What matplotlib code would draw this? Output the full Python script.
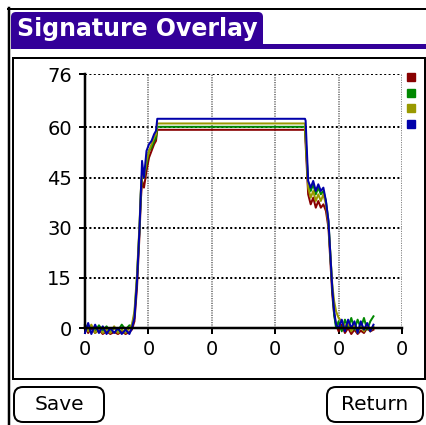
import matplotlib.pyplot as plt
from matplotlib.lines import Line2D
from matplotlib.patches import FancyBboxPatch, Rectangle

# дані кривих підписів
x = [0.00, 0.05, 0.10, 0.16, 0.22, 0.28, 0.34, 0.40, 0.46, 0.52, 0.58, 0.64, 0.70,
     0.74, 0.78, 0.82, 0.86, 0.88, 0.90, 0.93, 0.97, 1.01, 1.05, 1.09, 1.12, 1.14,
     3.47, 3.48, 3.52, 3.56, 3.60, 3.64, 3.68, 3.72, 3.76, 3.80, 3.84, 3.87, 3.90,
     3.93, 3.96, 4.00, 4.05, 4.10, 4.15, 4.20, 4.25, 4.30, 4.35, 4.40, 4.45, 4.50, 4.55]

red = [0.5, -1.5, 0.0, -1.5, -0.5, -1.8, -1.0, -1.8, -1.2, -1.8, -1.0, -1.8, -1.2,
       -0.5, 2, 12, 28, 38, 44, 42, 47, 51, 53, 55, 56, 59.3,
       59.3, 55, 40, 37, 39, 36, 38, 36, 37, 35, 30, 20, 10,
       4, 1, -1, 1, -1.5, 0, -1.8, -0.5, -1.8, -0.8, -1.5, 0, -1, -0.5]
green = [1.0, -0.5, 0.5, -1.0, 0.8, -0.8, 0.5, -1.2, 0.0, -0.8, 1.0, -0.5, 0.8,
         0.5, 4, 15, 30, 40, 46, 45, 49, 53, 54, 56, 57, 60.2,
         60.2, 57, 43, 41, 43, 40, 42, 40, 41, 38, 32, 22, 12,
         4, 0, 2, -1, 2.5, 0, 3, -0.5, 2.5, 0, 3, -0.5, 2, 3.5]
yellow = [0.5, -1.0, 1.0, -1.5, 0.0, -1.5, -0.5, -1.5, 0.5, -1.5, -0.5, -1.5, 0.0,
          1, 5, 16, 31, 41, 46, 45, 50, 53, 55, 57, 58, 61.2,
          61.2, 57, 42, 39, 41, 38, 40, 38, 40, 37, 31, 22, 13,
          8, 5, 3, 2, 0.5, 1.5, -1, 1, -1.5, 0.5, -1, 1, -1, 0.5]
blue = [-1.5, 1.5, -1.8, 1.0, -1.5, 0.5, -1.8, 0.0, -1.5, 0.0, -1.8, -0.5, -1.8,
        0, 3, 14, 30, 40, 50, 45, 53, 55, 56, 58, 59, 62.6,
        62.6, 62, 44, 42, 44, 41, 43, 41, 42, 38, 32, 22, 12,
        5, 1, 0, 2.5, -1, 2.5, 0, 2, -1.5, 2, -0.5, 1.5, -1, 1]

series = [red, green, yellow, blue]
colors = ['#880000', '#008800', '#999900', '#0000aa']
y_ticks = [0, 15, 30, 45, 60, 76]
x_ticks = [0, 1, 2, 3, 4, 5]
x_labels = ['0'] * 6

W, H = 427, 425
PX = 0.72  # 1 піксель у пунктах при dpi=100

fig = plt.figure(figsize=(W / 100, H / 100), dpi=100)

# фон: рамка вікна, заголовок, кнопки (у піксельних координатах)
bg = fig.add_axes([0, 0, 1, 1])
bg.set_xlim(0, W)
bg.set_ylim(H, 0)
bg.axis('off')

bg.plot([9, 9], [8, H], color='black', lw=2.5 * PX)
bg.plot([8, W], [9, 9], color='black', lw=2 * PX)
# вкладка заголовка: нижні заокруглення ховаємо під білою смугою
bg.add_patch(FancyBboxPatch((11, 12), 252, 45, boxstyle='round,pad=0,rounding_size=5',
                            fc='#330099', ec='none', zorder=1))
bg.add_patch(Rectangle((11, 49), W - 11, 10, fc='white', ec='none', zorder=2))
bg.add_patch(Rectangle((11, 44), W - 11, 5, fc='#330099', ec='none', zorder=2))
bg.text(17, 29, 'Signature Overlay', color='white', fontsize=17, fontweight='bold',
        va='center', ha='left', zorder=3)
bg.add_patch(Rectangle((13.5, 57.5), 411.5, 321, fc='none', ec='black', lw=2 * PX, zorder=3))

for x0, w, label in [(14, 90, 'Save'), (327, 96, 'Return')]:
    bg.add_patch(FancyBboxPatch((x0, 387), w, 35, boxstyle='round,pad=0,rounding_size=9',
                                fc='white', ec='black', lw=2 * PX))
    bg.text(x0 + w / 2, 405, label, fontsize=14.5, ha='center', va='center')

# область графіка
ax = fig.add_axes([85 / W, (H - 328) / H, 317 / W, 254 / H])
ax.set_xlim(0, 5)
ax.set_ylim(0, 76)
ax.patch.set_alpha(0)
for side in ['top', 'right']:
    ax.spines[side].set_visible(False)
for side in ['left', 'bottom']:
    ax.spines[side].set_linewidth(2.5 * PX)
    ax.spines[side].set_zorder(3)

ax.set_yticks(y_ticks)
ax.set_xticks(x_ticks)
ax.set_xticklabels(x_labels)
ax.tick_params(direction='out', length=6 * PX, width=2 * PX, labelsize=14)
ax.tick_params(axis='y', pad=5)
ax.tick_params(axis='x', pad=4)

for v in y_ticks[1:]:
    ax.axhline(v, color='black', lw=2 * PX, ls=(0, (1, 1.2)), zorder=1)
for v in x_ticks[1:]:
    ax.axvline(v, color='#888888', lw=2 * PX, ls=(0, (0.6, 0.6)), zorder=1)

for ys, c in zip(series, colors):
    ax.plot(x, ys, color=c, lw=2 * PX, clip_on=False, zorder=2)

handles = [Line2D([], [], marker='s', ls='none', color=c, markersize=8 * PX) for c in colors]
fig.legend(handles, [' '] * 4, loc='upper left', bbox_to_anchor=(407, 73),
           bbox_transform=bg.transData, frameon=False, fontsize=8,
           handlelength=0.8, handletextpad=0, labelspacing=0.5, borderpad=0,
           borderaxespad=0)

fig.savefig('out.png', dpi=100)
